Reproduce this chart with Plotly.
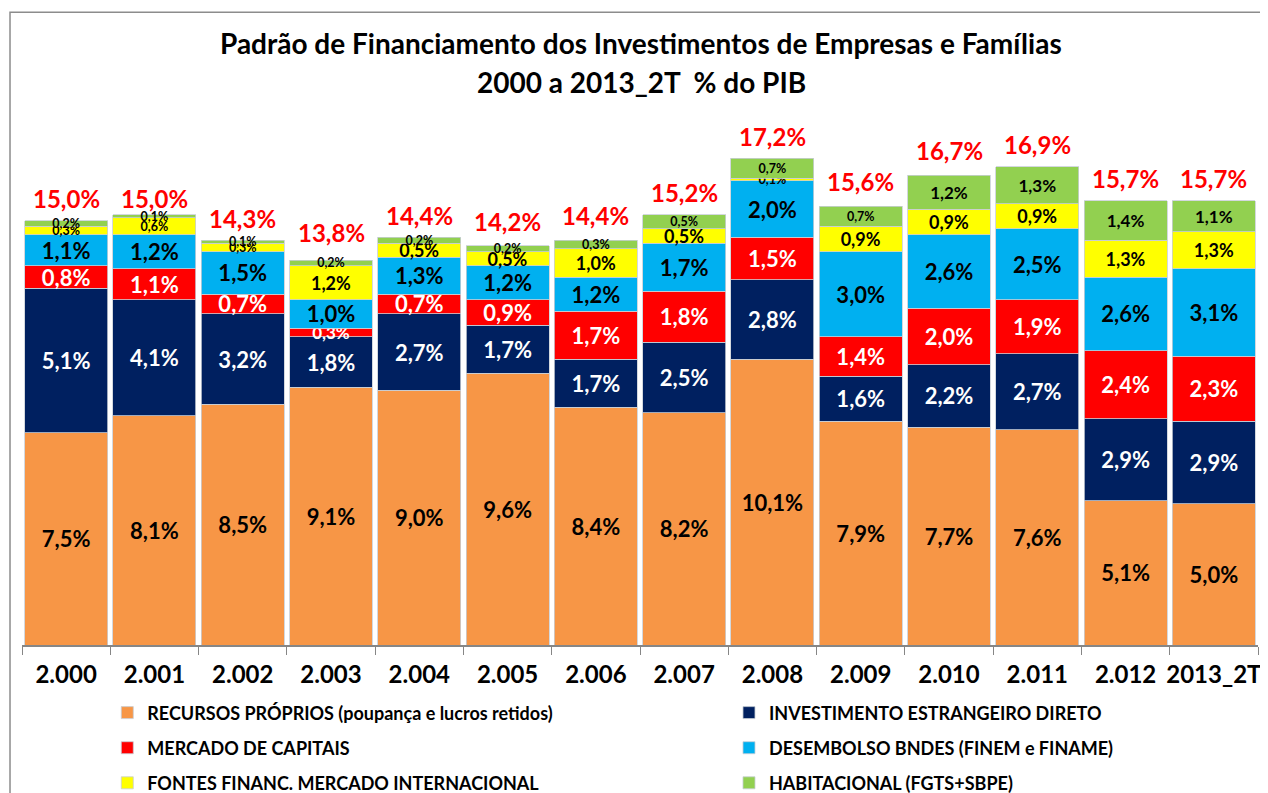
import plotly.graph_objects as go

# Categories (years) as written on the axis
years = ["2.000", "2.001", "2.002", "2.003", "2.004", "2.005", "2.006",
         "2.007", "2.008", "2.009", "2.010", "2.011", "2.012", "2013_2T"]

# Series values, % do PIB
recursos_proprios = [7.5, 8.1, 8.5, 9.1, 9.0, 9.6, 8.4, 8.2, 10.1, 7.9, 7.7, 7.6, 5.1, 5.0]
investimento_estrangeiro = [5.1, 4.1, 3.2, 1.8, 2.7, 1.7, 1.7, 2.5, 2.8, 1.6, 2.2, 2.7, 2.9, 2.9]
mercado_capitais = [0.8, 1.1, 0.7, 0.3, 0.7, 0.9, 1.7, 1.8, 1.5, 1.4, 2.0, 1.9, 2.4, 2.3]
desembolso_bndes = [1.1, 1.2, 1.5, 1.0, 1.3, 1.2, 1.2, 1.7, 2.0, 3.0, 2.6, 2.5, 2.6, 3.1]
fontes_internacional = [0.3, 0.6, 0.3, 1.2, 0.5, 0.5, 1.0, 0.5, 0.1, 0.9, 0.9, 0.9, 1.3, 1.3]
habitacional = [0.2, 0.1, 0.1, 0.2, 0.2, 0.2, 0.3, 0.5, 0.7, 0.7, 1.2, 1.3, 1.4, 1.1]

# Totals shown above each bar
totais = [15.0, 15.0, 14.3, 13.8, 14.4, 14.2, 14.4, 15.2, 17.2, 15.6, 16.7, 16.9, 15.7, 15.7]

FONT = "Lato, 'Open Sans', sans-serif"


def pct(v):
    return f"{v:.1f}".replace(".", ",") + "%"


# (name, values, colour, label colour, label size rule, legend x, legend y)
series = [
    ("RECURSOS PRÓPRIOS (poupança e lucros retidos)", recursos_proprios,
     "#F79646", "black", lambda v: 22, 0.069, -0.120),
    ("INVESTIMENTO ESTRANGEIRO DIRETO", investimento_estrangeiro,
     "#002060", "white", lambda v: 22, 0.572, -0.120),
    ("MERCADO DE CAPITAIS", mercado_capitais,
     "#FF0000", "white", lambda v: 22 if v >= 0.5 else 17, 0.069, -0.182),
    ("DESEMBOLSO BNDES (FINEM e FINAME)", desembolso_bndes,
     "#00B0F0", "black", lambda v: 22, 0.572, -0.182),
    ("FONTES FINANC. MERCADO INTERNACIONAL", fontes_internacional,
     "#FFFF00", "black", lambda v: 18 if v >= 0.5 and v != 0.6 else 12.5, 0.069, -0.244),
    ("HABITACIONAL (FGTS+SBPE)", habitacional,
     "#92D050", "black", lambda v: 17 if v >= 1.0 else 12.5, 0.572, -0.244),
]

fig = go.Figure()
legends = {}

for i, (name, vals, color, txtcolor, size_rule, lx, ly) in enumerate(series):
    leg = "legend" if i == 0 else f"legend{i + 1}"
    legends[leg] = dict(
        x=lx, y=ly, xanchor="left", yanchor="middle",
        font=dict(family=FONT, size=18, color="black", weight="bold"),
        bgcolor="rgba(0,0,0,0)",
    )
    fig.add_trace(go.Bar(
        x=years, y=vals, name=name,
        marker=dict(color=color, line=dict(color="#C8CED6", width=0.8)),
        text=[pct(v) for v in vals],
        textposition="inside",
        insidetextanchor="middle",
        constraintext="none",
        textangle=0,
        textfont=dict(family=FONT, color=txtcolor, weight="bold",
                      size=[size_rule(v) for v in vals]),
        hoverinfo="skip",
        legend=leg,
        cliponaxis=False,
    ))

# Totals in red above the bars
for i, tot in enumerate(totais):
    fig.add_annotation(
        x=i, y=tot, text=pct(tot), showarrow=False,
        yanchor="middle", yshift=22,
        font=dict(family=FONT, size=24, color="#FF0000", weight="bold"),
    )

# Two-line title
for txt, yp in [("Padrão de Financiamento dos Investimentos de Empresas e Famílias", 1.063),
                ("2000 a 2013_2T\u00a0\u00a0% do PIB", 0.995)]:
    fig.add_annotation(
        x=0.501, y=yp, xref="paper", yref="paper", text=txt, showarrow=False,
        xanchor="center", yanchor="middle",
        font=dict(family=FONT, size=28, color="black", weight="bold"),
    )

# Chart-area border (Excel style)
fig.add_shape(type="rect", xref="paper", yref="paper",
              x0=-0.0097, x1=1.05, y0=-0.35, y1=1.118,
              line=dict(color="#8C8C8C", width=1.5), fillcolor="rgba(0,0,0,0)")

fig.update_layout(
    width=1268, height=793,
    margin=dict(l=14, r=18, t=71, b=156, autoexpand=False),
    paper_bgcolor="white", plot_bgcolor="white",
    barmode="stack", bargap=0.06,
    xaxis=dict(
        type="category",
        showline=True, linecolor="#868686", linewidth=1.5,
        ticks="outside", tickson="boundaries", ticklen=8, tickcolor="#868686",
        tickangle=0,
        tickfont=dict(family=FONT, size=24, color="black", weight="bold"),
        ticklabelstandoff=7,
        showgrid=False, fixedrange=True,
    ),
    yaxis=dict(range=[0, 20], visible=False, showgrid=False, fixedrange=True),
    showlegend=True,
    **legends,
)

fig.write_html("out.html")
